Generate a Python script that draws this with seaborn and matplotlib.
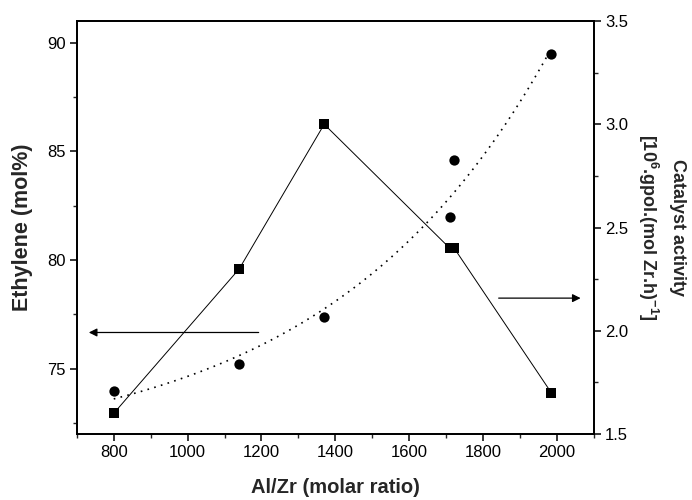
import numpy as np
import pandas as pd
import matplotlib
matplotlib.use("Agg")
import matplotlib.pyplot as plt
import seaborn as sns
from matplotlib.ticker import MultipleLocator

# Data
al_zr = [800, 1140, 1370, 1710, 1722, 1985]
ethylene = [74.0, 75.2, 77.4, 82.0, 84.6, 89.5]
activity = [1.60, 2.30, 3.00, 2.40, 2.40, 1.70]

x_ticks = [800, 1000, 1200, 1400, 1600, 1800, 2000]
left_ticks = [75, 80, 85, 90]
right_ticks = [1.5, 2.0, 2.5, 3.0, 3.5]

sns.set_theme(style="ticks")
plt.rcParams['font.family'] = ['Liberation Sans', 'DejaVu Sans']
plt.rcParams['mathtext.fontset'] = 'custom'
plt.rcParams['mathtext.rm'] = 'Liberation Sans:bold'
plt.rcParams['mathtext.it'] = 'Liberation Sans:bold'
plt.rcParams['mathtext.bf'] = 'Liberation Sans:bold'

fig = plt.figure(figsize=(6.92, 5.0), dpi=100)
ax = fig.add_axes([0.111, 0.132, 0.747, 0.826])
ax2 = ax.twinx()

df = pd.DataFrame({"al_zr": al_zr, "ethylene": ethylene, "activity": activity})

# exponential fit y = A + B*exp(x/t) of ethylene content (dotted curve)
xd = np.asarray(al_zr, float)
yd = np.asarray(ethylene, float)
best = None
for t in np.linspace(300, 2000, 341):
    M = np.column_stack([np.ones_like(xd), np.exp(xd / t)])
    c, res, *_ = np.linalg.lstsq(M, yd, rcond=None)
    r = np.sum((M @ c - yd) ** 2)
    if best is None or r < best[0]:
        best = (r, t, c)
_, t_best, c_best = best
xf = np.linspace(min(al_zr), max(al_zr), 200)
fit = pd.DataFrame({"x": xf, "y": c_best[0] + c_best[1] * np.exp(xf / t_best)})

sns.lineplot(data=fit, x="x", y="y", ax=ax, color="black", lw=1.2,
             linestyle=(0, (1, 3.2)), sort=False)
sns.scatterplot(data=df, x="al_zr", y="ethylene", ax=ax, marker="o",
                s=55, color="black", edgecolor="black", linewidth=0, zorder=5)

sns.lineplot(data=df, x="al_zr", y="activity", ax=ax2, color="black", lw=0.7,
             marker="s", markersize=7, markeredgewidth=0, sort=False)

ax.set_xlim(700, 2100)
ax.set_ylim(72, 91)
ax2.set_ylim(1.5, 3.5)

ax.set_xticks(x_ticks)
ax.set_yticks(left_ticks)
ax2.set_yticks(right_ticks)
ax.xaxis.set_minor_locator(MultipleLocator(100))
ax.yaxis.set_minor_locator(MultipleLocator(2.5))
ax2.yaxis.set_minor_locator(MultipleLocator(0.25))
ax2.set_yticklabels([f"{v:.1f}" for v in right_ticks])

for a in (ax, ax2):
    a.tick_params(which="major", direction="out", length=5, width=1.1,
                  labelsize=12, colors="black", pad=3)
    a.tick_params(which="minor", direction="out", length=3, width=1.0)
    for s in a.spines.values():
        s.set_linewidth(1.3)
        s.set_color("black")
        s.set_visible(True)
ax.tick_params(axis="y", which="both", right=False)
ax.tick_params(axis="x", which="both", top=False)

ax.set_xlabel("Al/Zr (molar ratio)", fontsize=14.5, fontweight="bold", labelpad=13)
ax.set_ylabel("Ethylene (mol%)", fontsize=15.5, fontweight="bold", labelpad=10)
ax2.set_ylabel("Catalyst activity\n[10$^{6}$.gpol.(mol Zr.h)$^{-1}$]",
               fontsize=13, fontweight="bold", rotation=270, labelpad=42,
               linespacing=1.5)

# arrows pointing to the relevant axes
ax.annotate("", xy=(725, 76.67), xytext=(1200, 76.67),
            arrowprops=dict(arrowstyle="-|>", color="black", lw=0.9,
                            mutation_scale=12))
ax2.annotate("", xy=(2072, 2.158), xytext=(1835, 2.158),
             arrowprops=dict(arrowstyle="-|>", color="black", lw=0.9,
                             mutation_scale=12))

fig.savefig("out.png", dpi=100)
